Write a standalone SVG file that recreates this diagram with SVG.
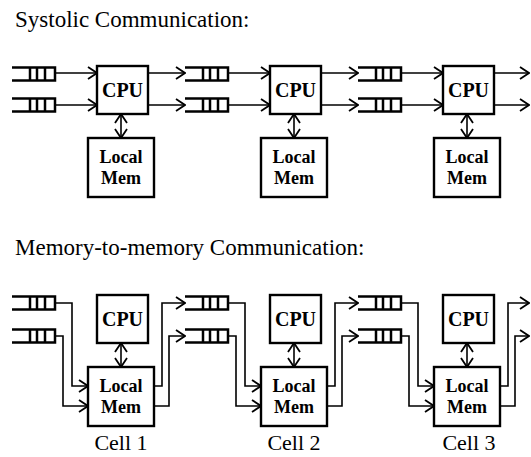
<svg xmlns="http://www.w3.org/2000/svg" xmlns:xlink="http://www.w3.org/1999/xlink" width="531" height="457" viewBox="0 0 531 457">
<style>
.box{fill:#fff;stroke:#000;stroke-width:2.4}
.q{fill:none;stroke:#000;stroke-width:2.5}
.c{fill:none;stroke:#000;stroke-width:1.6}
.title{font-family:"Liberation Serif","Times New Roman",serif;font-size:23px;fill:#000}
.lbl{font-family:"Liberation Serif","Times New Roman",serif;font-size:22px;fill:#000;text-anchor:middle}
.b{font-family:"Liberation Serif","Times New Roman",serif;font-weight:bold;fill:#000;text-anchor:middle}
.cpu{font-size:20px}
.mem{font-size:18px}
</style>
<defs>
<marker id="ar" markerUnits="userSpaceOnUse" markerWidth="12" markerHeight="14" viewBox="0 0 12 14" refX="11" refY="7" orient="auto-start-reverse">
<path d="M2,1 L11,7 L2,13" fill="none" stroke="#000" stroke-width="1.8"/>
</marker>
<path id="queue" class="q" d="M0,-6.5 H43 V6.5 H0 M18,-6.5 V6.5 M25,-6.5 V6.5 M33,-6.5 V6.5"/>
</defs>
<rect width="531" height="457" fill="#fff"/>
<text class="title" x="15" y="27">Systolic Communication:</text>
<text class="title" x="15" y="255">Memory-to-memory Communication:</text>

<g id="connectors">
<path class="c" marker-end="url(#ar)" d="M55,73 H97"/>
<path class="c" marker-end="url(#ar)" d="M55,105 H97"/>
<path class="c" marker-end="url(#ar)" d="M148,73 H185"/>
<path class="c" marker-end="url(#ar)" d="M148,105 H185"/>
<path class="c" marker-end="url(#ar)" d="M228,73 H270"/>
<path class="c" marker-end="url(#ar)" d="M228,105 H270"/>
<path class="c" marker-end="url(#ar)" d="M321,73 H358"/>
<path class="c" marker-end="url(#ar)" d="M321,105 H358"/>
<path class="c" marker-end="url(#ar)" d="M401,73 H443"/>
<path class="c" marker-end="url(#ar)" d="M401,105 H443"/>
<path class="c" marker-end="url(#ar)" d="M494,73 H529"/>
<path class="c" marker-end="url(#ar)" d="M494,105 H529"/>
<path class="c" marker-start="url(#ar)" marker-end="url(#ar)" d="M121,114 V138"/>
<path class="c" marker-start="url(#ar)" marker-end="url(#ar)" d="M294,114 V138"/>
<path class="c" marker-start="url(#ar)" marker-end="url(#ar)" d="M467,114 V138"/>
<path class="c" marker-end="url(#ar)" d="M55,303 H72 V386 H88"/>
<path class="c" marker-end="url(#ar)" d="M55,336 H63 V406 H88"/>
<path class="c" marker-end="url(#ar)" d="M154,386 H162 V303 H185"/>
<path class="c" marker-end="url(#ar)" d="M154,406 H169 V336 H185"/>
<path class="c" marker-end="url(#ar)" d="M228,303 H245 V386 H261"/>
<path class="c" marker-end="url(#ar)" d="M228,336 H236 V406 H261"/>
<path class="c" marker-end="url(#ar)" d="M327,386 H335 V303 H358"/>
<path class="c" marker-end="url(#ar)" d="M327,406 H342 V336 H358"/>
<path class="c" marker-end="url(#ar)" d="M401,303 H418 V386 H434"/>
<path class="c" marker-end="url(#ar)" d="M401,336 H409 V406 H434"/>
<path class="c" marker-end="url(#ar)" d="M500,386 H508 V303 H529"/>
<path class="c" marker-end="url(#ar)" d="M500,406 H515 V336 H529"/>
<path class="c" marker-start="url(#ar)" marker-end="url(#ar)" d="M121,343 V367"/>
<path class="c" marker-start="url(#ar)" marker-end="url(#ar)" d="M294,343 V367"/>
<path class="c" marker-start="url(#ar)" marker-end="url(#ar)" d="M467,343 V367"/>
</g>

<g id="sq0a"><use xlink:href="#queue" href="#queue" x="12" y="74"/></g>
<g id="sq0b"><use xlink:href="#queue" href="#queue" x="12" y="105"/></g>
<g id="sq1a"><use xlink:href="#queue" href="#queue" x="185" y="74"/></g>
<g id="sq1b"><use xlink:href="#queue" href="#queue" x="185" y="105"/></g>
<g id="sq2a"><use xlink:href="#queue" href="#queue" x="358" y="74"/></g>
<g id="sq2b"><use xlink:href="#queue" href="#queue" x="358" y="105"/></g>

<g id="s-cpu1"><rect class="box" x="97" y="66" width="51" height="48"/><text class="b cpu" x="122.5" y="97">CPU</text></g>
<g id="s-mem1"><rect class="box" x="88" y="138" width="66" height="59"/><text class="b mem" x="121" y="163">Local</text><text class="b mem" x="121" y="184">Mem</text></g>
<g id="s-cpu2"><rect class="box" x="270" y="66" width="51" height="48"/><text class="b cpu" x="295.5" y="97">CPU</text></g>
<g id="s-mem2"><rect class="box" x="261" y="138" width="66" height="59"/><text class="b mem" x="294" y="163">Local</text><text class="b mem" x="294" y="184">Mem</text></g>
<g id="s-cpu3"><rect class="box" x="443" y="66" width="51" height="48"/><text class="b cpu" x="468.5" y="97">CPU</text></g>
<g id="s-mem3"><rect class="box" x="434" y="138" width="66" height="59"/><text class="b mem" x="467" y="163">Local</text><text class="b mem" x="467" y="184">Mem</text></g>

<g id="mq0a"><use xlink:href="#queue" href="#queue" x="12" y="303"/></g>
<g id="mq0b"><use xlink:href="#queue" href="#queue" x="12" y="336"/></g>
<g id="mq1a"><use xlink:href="#queue" href="#queue" x="185" y="303"/></g>
<g id="mq1b"><use xlink:href="#queue" href="#queue" x="185" y="336"/></g>
<g id="mq2a"><use xlink:href="#queue" href="#queue" x="358" y="303"/></g>
<g id="mq2b"><use xlink:href="#queue" href="#queue" x="358" y="336"/></g>

<g id="m-cpu1"><rect class="box" x="97" y="295" width="51" height="48"/><text class="b cpu" x="122.5" y="326">CPU</text></g>
<g id="m-mem1"><rect class="box" x="88" y="367" width="66" height="59"/><text class="b mem" x="121" y="392">Local</text><text class="b mem" x="121" y="413">Mem</text></g>
<g id="m-cpu2"><rect class="box" x="270" y="295" width="51" height="48"/><text class="b cpu" x="295.5" y="326">CPU</text></g>
<g id="m-mem2"><rect class="box" x="261" y="367" width="66" height="59"/><text class="b mem" x="294" y="392">Local</text><text class="b mem" x="294" y="413">Mem</text></g>
<g id="m-cpu3"><rect class="box" x="443" y="295" width="51" height="48"/><text class="b cpu" x="468.5" y="326">CPU</text></g>
<g id="m-mem3"><rect class="box" x="434" y="367" width="66" height="59"/><text class="b mem" x="467" y="392">Local</text><text class="b mem" x="467" y="413">Mem</text></g>

<g id="cell-labels">
<text class="lbl" x="121" y="450">Cell 1</text>
<text class="lbl" x="294" y="450">Cell 2</text>
<text class="lbl" x="469" y="450">Cell 3</text>
</g>
</svg>
